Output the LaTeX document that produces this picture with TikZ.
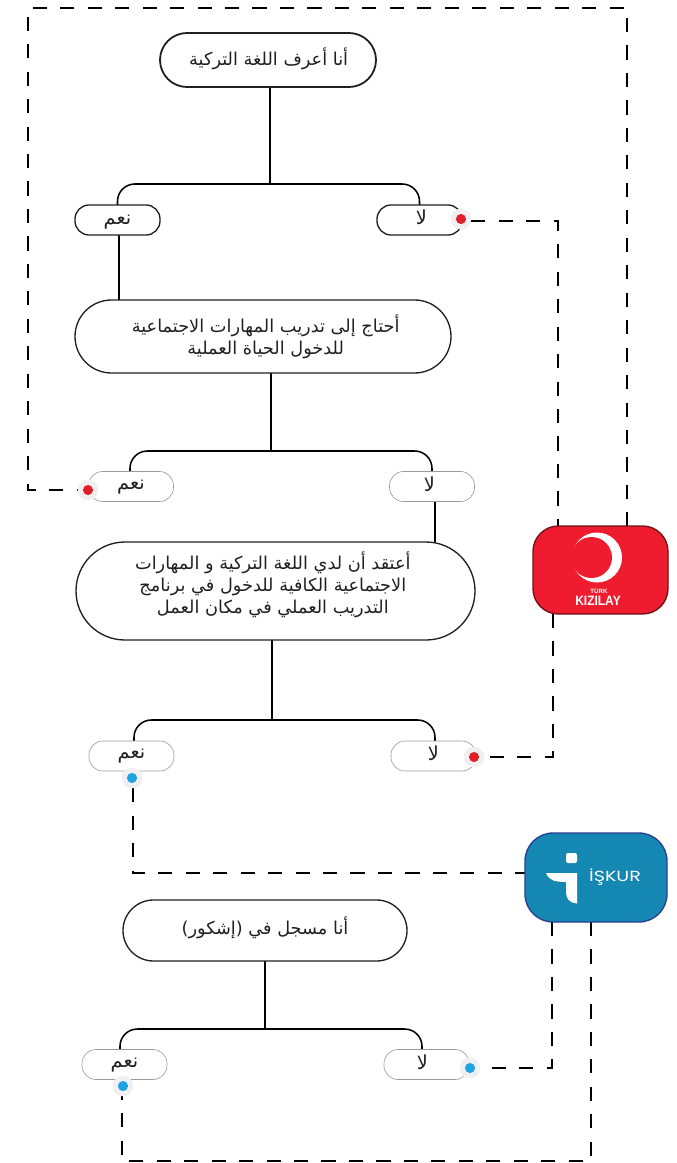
\documentclass[tikz,border=0pt]{standalone}
\usepackage{fontspec}
\usetikzlibrary{calc,backgrounds}
\TeXXeTstate=1
\newfontfamily\arabicfont[Script=Arabic]{DejaVu Sans}
\newfontfamily\logofont{Liberation Sans}
\newfontfamily\iskurfont{Poppins}
\definecolor{ink}{HTML}{231F20}
\definecolor{kizfill}{HTML}{EE1C2E}
\definecolor{kizedge}{HTML}{6E1218}
\definecolor{iskfill}{HTML}{1587B3}
\definecolor{iskedge}{HTML}{2B3E94}
\definecolor{dotred}{HTML}{E21F26}
\definecolor{dotblue}{HTML}{1CA3E0}
\definecolor{halo}{HTML}{F0F0F3}
\newcommand{\artxt}[1]{\beginR #1\endR}
% place text off-centre in its node without altering the node size
\newcommand{\placed}[3]{\raisebox{#2}[0pt][0pt]{\makebox[0pt]{\hspace*{#1}\begin{tabular}{@{}c@{}}#3\end{tabular}}}}
\tikzset{
  x=0.75pt,y=-0.75pt,
  pill/.style 2 args={rectangle,draw=ink,fill=white,line width=1pt,inner sep=0pt,outer sep=0pt,
    minimum width=#1*0.75pt,minimum height=#2*0.75pt,rounded corners=#2*0.375pt,
    font=\arabicfont\fontsize{13.3}{16.5}\selectfont,text=ink},
  question/.style 2 args={pill={#1}{#2}},
  answer/.style={pill={85}{30},rounded corners=10.5pt,line width=1pt,font=\arabicfont\fontsize{14.5}{16}\selectfont},
  answerlight/.style={answer,draw=black!40,line width=0.45pt},
  logobox/.style n args={4}{rectangle,fill=#3,draw=#4,line width=1pt,inner sep=0pt,outer sep=0pt,
    minimum width=#1*0.75pt,minimum height=#2*0.75pt,rounded corners=19pt},
  halonode/.style={circle,fill=halo,minimum size=15.5pt,inner sep=0pt,outer sep=0pt},
  dotnode/.style={circle,fill=#1,minimum size=7.6pt,inner sep=0pt,outer sep=0pt},
  conn/.style={draw=black,line width=1.15pt},
  branch/.style={conn,rounded corners=13pt},
  dashconn/.style={draw=black,line width=1.1pt,dash pattern=on 10.6pt off 10pt},
}
\begin{document}
\begin{tikzpicture}
\useasboundingbox (0,0) rectangle (677,1163);
% questions
\node[question={216}{54},line width=1.35pt] (q1) at (268,60) {\placed{1pt}{-3.5pt}{\artxt{أنا أعرف اللغة التركية}}};
\node[question={376}{73}] (q2) at (263,336.5) {\placed{4pt}{-4.5pt}{\artxt{أحتاج إلى تدريب المهارات الاجتماعية}\\\artxt{للدخول الحياة العملية}}};
\node[question={399}{98}] (q3) at (275.5,591) {\placed{-4pt}{0pt}{\artxt{أعتقد أن لدي اللغة التركية و المهارات}\\\artxt{الاجتماعية الكافية للدخول في برنامج}\\\artxt{التدريب العملي في مكان العمل}}};
\node[question={284}{61}] (q4) at (265,930.5) {\placed{0pt}{-2.5pt}{\artxt{أنا مسجل في (إشكور)}}};
% answers
\node[answer] (yes1) at (117.5,220) {\placed{0pt}{-4pt}{\artxt{نعم}}};
\node[answer] (no1) at (419.5,220) {\placed{3pt}{-4pt}{\artxt{لا}}};
\node[answerlight] (yes2) at (131,486.5) {\placed{0pt}{-2.5pt}{\artxt{نعم}}};
\node[answerlight] (no2) at (432,486.5) {\placed{-4pt}{-4pt}{\artxt{لا}}};
\node[answerlight] (yes3) at (131.5,756) {\placed{0pt}{-2.5pt}{\artxt{نعم}}};
\node[answerlight] (no3) at (433.5,756) {\placed{0pt}{-4pt}{\artxt{لا}}};
\node[answerlight] (yes4) at (124.5,1064.5) {\placed{0pt}{-2.5pt}{\artxt{نعم}}};
\node[answerlight] (no4) at (426.5,1064.5) {\placed{-6pt}{-4pt}{\artxt{لا}}};
% logos
\node[logobox={135}{88}{kizfill}{kizedge}] (kiz) at (600.5,570) {};
\fill[white] (597,557.5) circle[radius=25];
\fill[kizfill] (591.5,557.5) circle[radius=20.5];
\node[text=white,inner sep=0pt,font=\logofont\bfseries\fontsize{4.6}{5}\selectfont] (turk) at (599,591) {TÜRK};
\node[text=white,inner sep=0pt,font=\logofont\bfseries\fontsize{10.2}{12}\selectfont,xscale=0.88,transform shape] (kizil) at (598,601) {KIZILAY};
\node[logobox={142}{89}{iskfill}{iskedge},rounded corners=21pt] (isk) at (596,877.5) {};
\fill[white,rounded corners=1.5pt] (566,853) -- (577,853) -- (577,863) -- (566,863) -- cycle;
\fill[white] (546,873) -- (577,873) -- (577,903.5) .. controls (570,903) and (566,899) .. (566,892) -- (566,882) .. controls (554,882) and (549,880) .. (546,873) -- cycle;
\node[text=white,inner sep=0pt,font=\iskurfont\fontsize{11}{12}\selectfont,xscale=1.3,transform shape] (iskt) at (615,877) {İŞKUR};
% dots
\foreach \nm/\px/\py/\col in {d1/461/219/dotred,d2/88/490/dotred,d3/474/757/dotred,d4/132/778/dotblue,d5/470/1068/dotblue,d6/123/1086/dotblue}{
  \node[halonode] (\nm h) at (\px,\py) {};
  \node[dotnode=\col] (\nm) at (\px,\py) {};
}
% junctions
\coordinate (j1) at (270,184);
\coordinate (j2) at (271,451);
\coordinate (j3) at (272,720);
\coordinate (j4) at (265,1029);
% docks for dashed links
\coordinate (k1) at (558,526.5);
\coordinate (k2) at (627,526.5);
\coordinate (k3) at (553,614);
\coordinate (i1) at (525.5,873);
\coordinate (i2) at (552,922);
\coordinate (i3) at (591,922);
\begin{scope}[on background layer]
\draw[conn] (q1.south -| j1) -- (j1);
\draw[branch] (yes1.north) |- (j1) -| (no1.north);
\draw[conn] (yes1.south -| 119,0) -- (119,300.5);
\draw[conn] (q2.south -| j2) -- (j2);
\draw[branch] ($(yes2.north)+(-1,0)$) |- (j2) -| (no2.north);
\draw[conn] (435,501) -- (q3.north -| 435,0);
\draw[conn] (q3.south -| j3) -- (j3);
\draw[branch] ($(yes3.north)+(2.5,0)$) |- (j3) -| ($(no3.north)+(1.5,0)$);
\draw[conn] (q4.south -| j4) -- (j4);
\draw[branch] ($(yes4.north)+(-4.5,0)$) |- (j4) -| ($(no4.north)+(-4.5,0)$);
% dashed links
\draw[dashconn] (d1h.east |- 0,221) -| (k1);
\draw[dashconn] (k2) |- (28,8) |- (d2h.west |- 0,490);
\draw[dashconn] (k3) |- (d3h.east |- 0,757);
\draw[dashconn] (d4h.south -| 133,0) |- (i1);
\draw[dashconn] (i2) |- (d5h.east |- 0,1068);
\draw[dashconn] (i3) |- (122,1161) -- (d6h.south -| 122,0);
\end{scope}
\end{tikzpicture}
\end{document}
